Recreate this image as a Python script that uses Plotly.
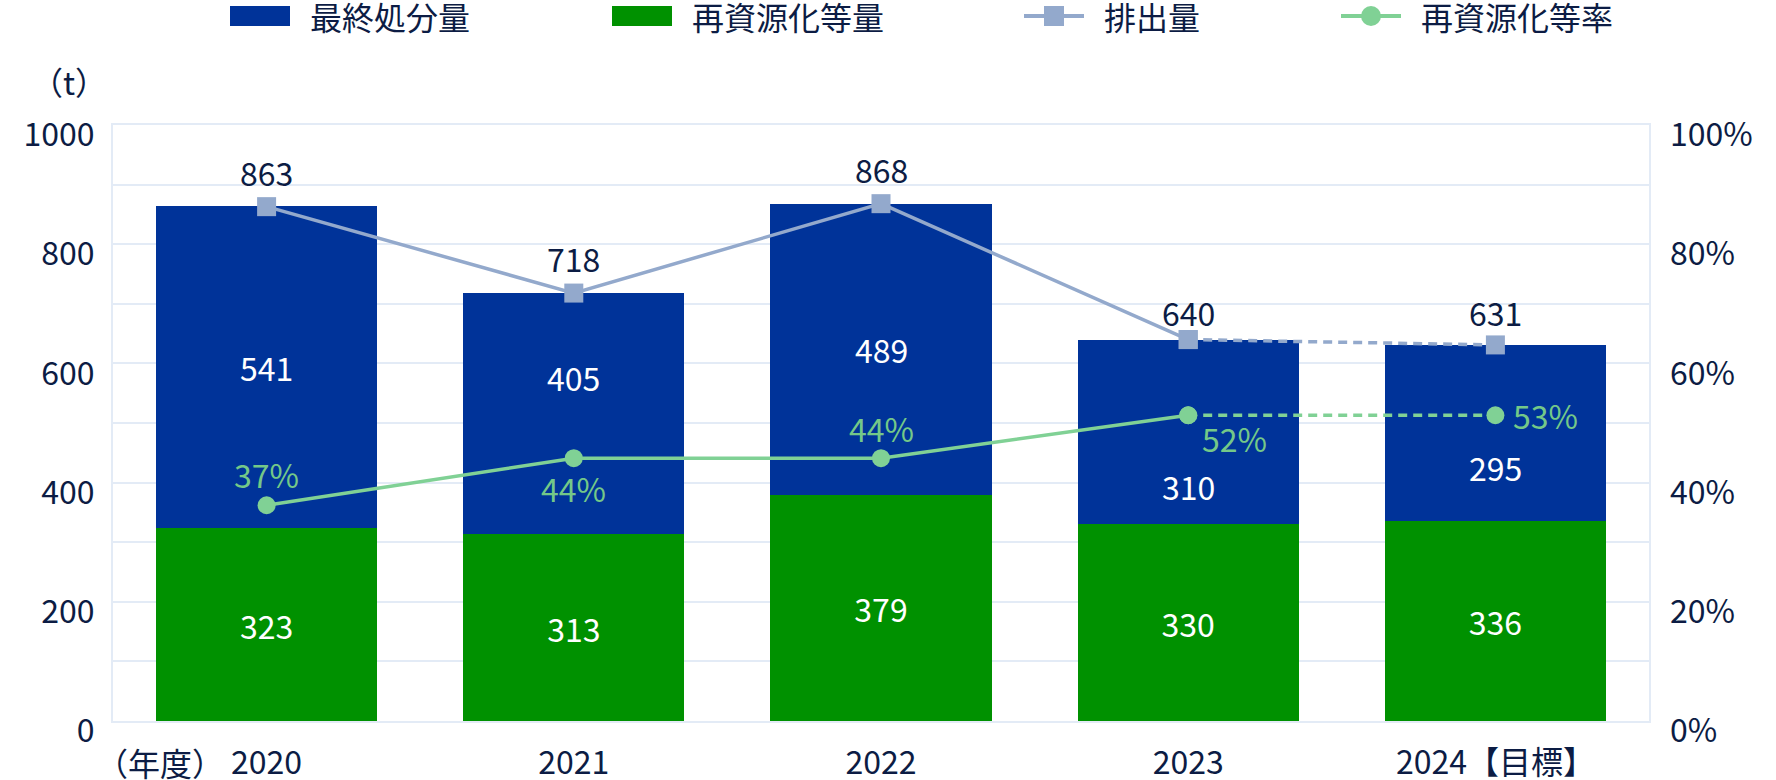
import plotly.graph_objects as go

# ---------------- data ----------------
years = ["2020", "2021", "2022", "2023", "2024【目標】"]
recycled = [323, 313, 379, 330, 336]          # 再資源化等量
final_disposal = [541, 405, 489, 310, 295]    # 最終処分量
emission = [863, 718, 868, 640, 631]          # 排出量
recycle_rate = [36.2, 44.1, 44.1, 51.3, 51.3]  # 再資源化等率 (%), as plotted
rate_labels = ["37%", "44%", "44%", "52%", "53%"]
left_ticks = [0, 200, 400, 600, 800, 1000]
right_ticks = [0, 20, 40, 60, 80, 100]

# ---------------- style ----------------
FONT = "Noto Sans CJK JP"
NAVY = "#0c1c44"
BLUE = "#003399"
GREEN = "#009100"
TOTAL_C = "#93a9cc"
RATE_C = "#80d195"
RATE_TXT = "#74c888"
GRID = "#e3ebf6"
FS = 32
LW = 3.5

W, H = 1776, 780
ML, MR, MT, MB = 113, 127, 125, 59
PW = W - ML - MR
PH = H - MT - MB


def px(x):
    return (x - ML) / PW


def py(y):
    return (H - MB - y) / PH


n_solid = 4  # first points joined by solid line; last segment (target) dashed

fig = go.Figure()

fig.add_trace(go.Bar(
    x=years, y=recycled, name="再資源化等量", marker=dict(color=GREEN, line=dict(width=0)),
    text=[str(v) for v in recycled], textposition="inside", insidetextanchor="middle",
    textangle=0, constraintext="none",
    textfont=dict(family=FONT, size=FS, color="white"), hoverinfo="skip"))
fig.add_trace(go.Bar(
    x=years, y=final_disposal, name="最終処分量", marker=dict(color=BLUE, line=dict(width=0)),
    hoverinfo="skip"))

# 排出量 line
fig.add_trace(go.Scatter(
    x=years[:n_solid], y=emission[:n_solid], mode="lines+markers", name="排出量",
    line=dict(color=TOTAL_C, width=LW),
    marker=dict(symbol="square", size=19, color=TOTAL_C)))
fig.add_trace(go.Scatter(
    x=years[n_solid - 1:], y=emission[n_solid - 1:], mode="lines+markers", showlegend=False,
    line=dict(color=TOTAL_C, width=LW, dash="9px,6px"),
    marker=dict(symbol="square", size=19, color=TOTAL_C)))

# 再資源化等率 line (right axis)
fig.add_trace(go.Scatter(
    x=years[:n_solid], y=recycle_rate[:n_solid], mode="lines+markers", name="再資源化等率",
    yaxis="y2", line=dict(color=RATE_C, width=LW),
    marker=dict(symbol="circle", size=18, color=RATE_C)))
fig.add_trace(go.Scatter(
    x=years[n_solid - 1:], y=recycle_rate[n_solid - 1:], mode="lines+markers", showlegend=False,
    yaxis="y2", line=dict(color=RATE_C, width=LW, dash="9px,6px"),
    marker=dict(symbol="circle", size=18, color=RATE_C)))

annotations = []

# annotations on a category axis are positioned by category index
# 最終処分量 labels (middle of blue segment, nudged to avoid the rate labels)
blue_shift = [0, 37, 0, -54, -34]
for i in range(len(years)):
    annotations.append(dict(
        x=i, y=recycled[i] + final_disposal[i] / 2, xref="x", yref="y",
        text=str(final_disposal[i]), showarrow=False, yshift=blue_shift[i],
        font=dict(family=FONT, size=FS, color="white")))

# 排出量 labels above markers
total_shift = [35, 35, 35, 28, 33]
for i in range(len(years)):
    annotations.append(dict(
        x=i, y=emission[i], xref="x", yref="y", text=str(emission[i]),
        showarrow=False, yshift=total_shift[i], font=dict(family=FONT, size=FS, color=NAVY)))

# 再資源化等率 labels
rate_pos = [(0, 31, "center"), (0, -30, "center"), (0, 30, "center"), (12, -23, "left"), (16, 0, "left")]
for i in range(len(years)):
    dx, dy, anc = rate_pos[i]
    annotations.append(dict(
        x=i, y=recycle_rate[i], xref="x", yref="y2", text=rate_labels[i],
        showarrow=False, xshift=dx, yshift=dy, xanchor=anc,
        font=dict(family=FONT, size=FS, color=RATE_TXT)))

# axis captions
annotations.append(dict(x=px(69), y=py(81), xref="paper", yref="paper", text="（t）",
                        showarrow=False, xanchor="center", yanchor="middle",
                        font=dict(family=FONT, size=FS, color=NAVY)))
annotations.append(dict(x=px(160), y=py(762), xref="paper", yref="paper", text="（年度）",
                        showarrow=False, xanchor="center", yanchor="middle",
                        font=dict(family=FONT, size=FS, color=NAVY)))

# custom legend
shapes = []
LEG_Y = py(16)
legend_items = [
    ("bar", BLUE, 230, "最終処分量"),
    ("bar", GREEN, 612, "再資源化等量"),
    ("square", TOTAL_C, 1024, "排出量"),
    ("circle", RATE_C, 1341, "再資源化等率"),
]
for kind, col, x0, label in legend_items:
    if kind == "bar":
        shapes.append(dict(type="rect", xref="paper", yref="paper",
                           x0=px(x0), x1=px(x0 + 60), y0=py(26), y1=py(6),
                           fillcolor=col, line=dict(width=0)))
    else:
        shapes.append(dict(type="line", xref="paper", yref="paper",
                           x0=px(x0), x1=px(x0 + 60), y0=py(16), y1=py(16),
                           line=dict(color=col, width=4)))
        shapes.append(dict(type="rect" if kind == "square" else "circle",
                           xref="paper", yref="paper",
                           x0=px(x0 + 20), x1=px(x0 + 40), y0=py(26), y1=py(6),
                           fillcolor=col, line=dict(width=0)))
    annotations.append(dict(x=px(x0 + 78), y=LEG_Y, xref="paper", yref="paper", text=label,
                            showarrow=False, xanchor="left", yanchor="middle",
                            font=dict(family=FONT, size=FS, color=NAVY)))

fig.update_layout(
    width=W, height=H,
    margin=dict(l=ML, r=MR, t=MT, b=MB, pad=0, autoexpand=False),
    paper_bgcolor="white", plot_bgcolor="white",
    barmode="stack", bargap=0.28,
    showlegend=False,
    font=dict(family=FONT, size=FS, color=NAVY),
    xaxis=dict(type="category", categoryorder="array", categoryarray=years,
               range=[-0.5, len(years) - 0.5], automargin=False,
               showgrid=False, showline=True, mirror=True, linecolor=GRID, linewidth=2,
               ticks="", tickfont=dict(family=FONT, size=FS, color=NAVY),
               ticklabelstandoff=13),
    yaxis=dict(range=[left_ticks[0], left_ticks[-1]], tickmode="linear", tick0=left_ticks[0],
               dtick=left_ticks[1] - left_ticks[0], automargin=False,
               showgrid=True, gridcolor=GRID, gridwidth=2,
               minor=dict(dtick=(left_ticks[1] - left_ticks[0]) / 2, showgrid=True,
                          gridcolor=GRID, gridwidth=2),
               zeroline=False, showline=True, mirror=True, linecolor=GRID, linewidth=2,
               ticks="", tickfont=dict(family=FONT, size=FS, color=NAVY),
               ticklabelstandoff=10, ticklabelshift=10),
    yaxis2=dict(range=[right_ticks[0], right_ticks[-1]], tickmode="linear", tick0=right_ticks[0],
                dtick=right_ticks[1] - right_ticks[0], ticksuffix="%", automargin=False,
                overlaying="y", side="right",
                showgrid=False, zeroline=False, showline=False, ticks="",
                tickfont=dict(family=FONT, size=FS, color=NAVY),
                ticklabelstandoff=20, ticklabelshift=10),
    annotations=annotations,
    shapes=shapes,
)

fig.write_html("out.html")
